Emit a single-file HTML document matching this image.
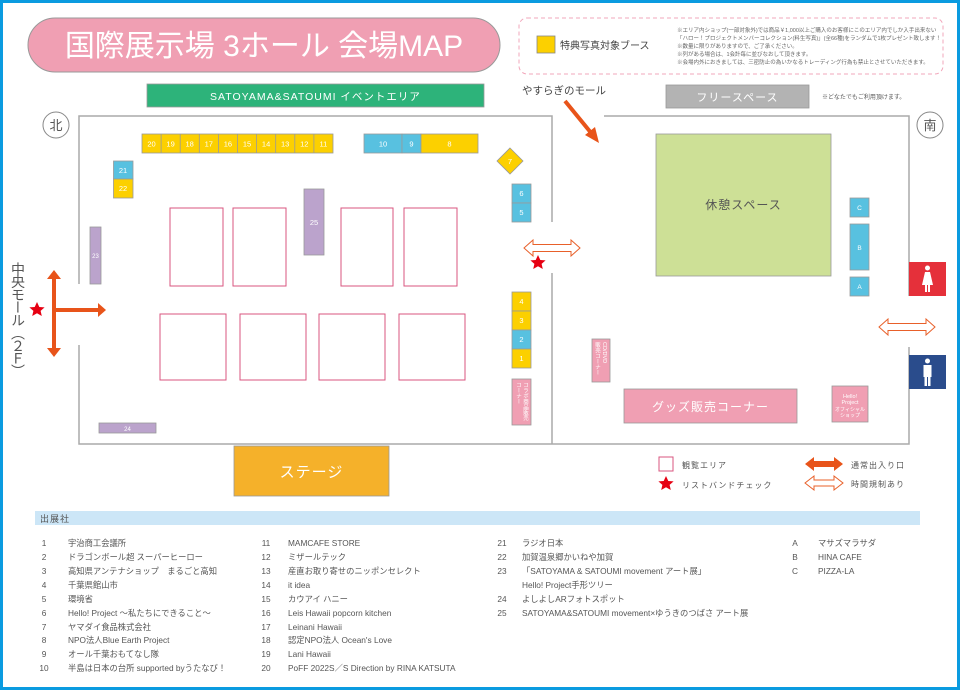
<!DOCTYPE html>
<html><head><meta charset="utf-8"><style>
html,body{margin:0;padding:0;background:#fff}
body{position:relative;width:960px;height:690px;overflow:hidden}
svg{display:block}
text{font-family:"Liberation Sans","Noto Sans CJK JP",sans-serif}
.vt{position:absolute;left:10px;top:262px;writing-mode:vertical-rl;text-orientation:mixed;font-family:"Noto Sans CJK JP",sans-serif;font-size:14px;line-height:16px;color:#555;letter-spacing:-1.2px}
</style></head><body>
<svg width="960" height="690" viewBox="0 0 960 690" xmlns="http://www.w3.org/2000/svg">
<defs>
<g id="ob"><polygon points="0,0 9,-8 9,-3.5 47,-3.5 47,-8 56,0 47,8 47,3.5 9,3.5 9,8" fill="#fff" stroke="#e8602a" stroke-width="1"/></g>
</defs>
<rect x="1.5" y="1.5" width="957" height="687" fill="#fff" stroke="#0a9be0" stroke-width="3"/>

<rect x="28" y="18" width="472" height="54" rx="27" fill="#f09fb3" stroke="#999" stroke-width="1"/>
<text x="264" y="56" font-size="30" fill="#fff" text-anchor="middle">国際展示場 3ホール 会場MAP</text>

<rect x="519" y="18" width="424" height="56" rx="8" fill="none" stroke="#f2a7bb" stroke-width="1" stroke-dasharray="4,3"/>
<rect x="537" y="36" width="18" height="17" fill="#fcd000" stroke="#888" stroke-width="0.8"/>
<text x="560" y="49" font-size="10" fill="#444">特典写真対象ブース</text>
<g font-size="5.5" fill="#666">
<text x="677" y="32">※エリア内ショップ(一部対象外)では商品￥1,000以上ご購入のお客様にこのエリア内でしか入手出来ない</text>
<text x="677" y="40">「ハロー！プロジェクトメンバーコレクション(料生写真)」(全66種)をランダムで1枚プレゼント致します！</text>
<text x="677" y="48">※数量に限りがありますので、ご了承ください。</text>
<text x="677" y="56">※列がある場合は、1会計毎に並びなおして頂きます。</text>
<text x="677" y="64">※会場内外におきましては、三密防止の為いかなるトレーディング行為も禁止とさせていただきます。</text>
</g>

<rect x="147" y="84" width="337" height="23" fill="#2db37a" stroke="#999" stroke-width="0.8"/>
<text x="315.5" y="100" font-size="10.5" fill="#fff" text-anchor="middle" letter-spacing="1">SATOYAMA&amp;SATOUMI イベントエリア</text>
<text x="522" y="94" font-size="10.5" fill="#444">やすらぎのモール</text>
<rect x="666" y="85" width="143" height="23" fill="#b3b3b3" stroke="#999" stroke-width="0.8"/>
<text x="737.5" y="101" font-size="11" fill="#fff" text-anchor="middle" letter-spacing="1">フリースペース</text>
<text x="822" y="99" font-size="6" fill="#555">※どなたでもご利用頂けます。</text>

<line x1="565" y1="101" x2="592" y2="134" stroke="#e8541a" stroke-width="4"/>
<polygon points="599,143 585,135 595,127" fill="#e8541a"/>

<circle cx="56" cy="125" r="13" fill="#fff" stroke="#888" stroke-width="1"/>
<text x="56" y="130" font-size="13" fill="#555" text-anchor="middle">北</text>
<circle cx="930" cy="125" r="13" fill="#fff" stroke="#888" stroke-width="1"/>
<text x="930" y="130" font-size="13" fill="#555" text-anchor="middle">南</text>

<g stroke="#aaa" stroke-width="1.5" fill="none">
<polyline points="79,284 79,116 552,116 552,222"/>
<polyline points="79,345 79,444 909,444 909,347"/>
<line x1="552" y1="273" x2="552" y2="444"/>
<polyline points="604,116 909,116 909,296"/>
</g>

<rect x="142" y="134" width="191" height="19" fill="#fcd000" stroke="#999" stroke-width="0.8"/>
<g stroke="#999" stroke-width="0.8">
<line x1="161.1" y1="134" x2="161.1" y2="153"/><line x1="180.2" y1="134" x2="180.2" y2="153"/><line x1="199.3" y1="134" x2="199.3" y2="153"/><line x1="218.4" y1="134" x2="218.4" y2="153"/><line x1="237.5" y1="134" x2="237.5" y2="153"/><line x1="256.6" y1="134" x2="256.6" y2="153"/><line x1="275.7" y1="134" x2="275.7" y2="153"/><line x1="294.8" y1="134" x2="294.8" y2="153"/><line x1="313.9" y1="134" x2="313.9" y2="153"/>
</g>
<g font-size="7.5" fill="#fff" text-anchor="middle">
<text x="151.5" y="146.5">20</text><text x="170.6" y="146.5">19</text><text x="189.7" y="146.5">18</text><text x="208.8" y="146.5">17</text><text x="227.9" y="146.5">16</text><text x="247" y="146.5">15</text><text x="266.1" y="146.5">14</text><text x="285.2" y="146.5">13</text><text x="304.3" y="146.5">12</text><text x="323.4" y="146.5">11</text>
</g>
<g stroke="#999" stroke-width="0.8">
<rect x="364" y="134" width="38" height="19" fill="#58c1e0"/>
<rect x="402" y="134" width="19" height="19" fill="#58c1e0"/>
<rect x="421" y="134" width="57" height="19" fill="#fcd000"/>
<rect x="113.5" y="161" width="19.5" height="18" fill="#58c1e0"/>
<rect x="113.5" y="179" width="19.5" height="19" fill="#fcd000"/>
<rect x="512" y="184" width="19" height="19" fill="#58c1e0"/>
<rect x="512" y="203" width="19" height="19" fill="#58c1e0"/>
<polygon points="510,148 523,161 510,174 497,161" fill="#fcd000"/>
<rect x="304" y="189" width="20" height="66" fill="#bba3cc"/>
<rect x="90" y="227" width="11" height="57" fill="#bba3cc"/>
<rect x="99" y="423" width="57" height="10" fill="#bba3cc"/>
<rect x="512" y="292" width="19" height="19" fill="#fcd000"/>
<rect x="512" y="311" width="19" height="19" fill="#fcd000"/>
<rect x="512" y="330" width="19" height="19" fill="#58c1e0"/>
<rect x="512" y="349" width="19" height="19" fill="#fcd000"/>
<rect x="512" y="379" width="19" height="46" fill="#f09fb3"/>
<rect x="850" y="198" width="19" height="19" fill="#58c1e0"/>
<rect x="850" y="224" width="19" height="46" fill="#58c1e0"/>
<rect x="850" y="277" width="19" height="19" fill="#58c1e0"/>
<rect x="592" y="339" width="18" height="43" fill="#f09fb3"/>
<rect x="624" y="389" width="173" height="34" fill="#f09fb3"/>
<rect x="832" y="386" width="36" height="36" fill="#f09fb3"/>
<rect x="656" y="134" width="175" height="142" fill="#cde096"/>
</g>
<g font-size="7.5" fill="#fff" text-anchor="middle">
<text x="383" y="146.5">10</text><text x="411.5" y="146.5">9</text><text x="449.5" y="146.5">8</text>
<text x="123" y="173">21</text><text x="123" y="191">22</text>
<text x="521.5" y="196">6</text><text x="521.5" y="215">5</text>
<text x="510" y="164">7</text>
<text x="314" y="225">25</text>
<text x="95.5" y="258" font-size="6">23</text>
<text x="127.5" y="431" font-size="6">24</text>
<text x="521.5" y="304">4</text><text x="521.5" y="323">3</text><text x="521.5" y="342">2</text><text x="521.5" y="361">1</text>
<text x="859.5" y="210" font-size="6.5">C</text><text x="859.5" y="250" font-size="6.5">B</text><text x="859.5" y="289" font-size="6.5">A</text>
<text x="850" y="398" font-size="5.5">Hello!</text>
<text x="850" y="404" font-size="5.5">Project</text>
<text x="850" y="411" font-size="5">オフィシャル</text>
<text x="850" y="417" font-size="5">ショップ</text>
</g>
<text x="710.5" y="411" font-size="12" fill="#fff" text-anchor="middle" letter-spacing="1">グッズ販売コーナー</text>
<text x="743.5" y="209" font-size="12" fill="#555" text-anchor="middle" letter-spacing="1">休憩スペース</text>
<g font-size="5.5" fill="#fff" writing-mode="tb">
<text x="525" y="382">コラボ商品販売</text>
<text x="518" y="382">コーナー</text>
<text x="604" y="342">CD/DVD</text>
<text x="597" y="342">販売コーナー</text>
</g>

<g fill="none" stroke="#d9557f" stroke-width="1">
<rect x="170" y="208" width="53" height="78"/><rect x="233" y="208" width="53" height="78"/>
<rect x="341" y="208" width="52" height="78"/><rect x="404" y="208" width="53" height="78"/>
<rect x="160" y="314" width="66" height="66"/><rect x="240" y="314" width="66" height="66"/>
<rect x="319" y="314" width="66" height="66"/><rect x="399" y="314" width="66" height="66"/>
</g>

<rect x="234" y="446" width="155" height="50" fill="#f5b12a" stroke="#999" stroke-width="0.8"/>
<text x="311.5" y="477" font-size="15" fill="#fff" text-anchor="middle" letter-spacing="1">ステージ</text>

<line x1="54" y1="277" x2="54" y2="350" stroke="#e8541a" stroke-width="4"/>
<polygon points="54,270 47,279 61,279" fill="#e8541a"/>
<polygon points="54,357 47,348 61,348" fill="#e8541a"/>
<line x1="54" y1="310" x2="99" y2="310" stroke="#e8541a" stroke-width="4"/>
<polygon points="106,310 98,303 98,317" fill="#e8541a"/>

<g fill="#e60012">
<polygon points="37,302 39.3,307 44.6,307.4 40.6,310.9 41.8,316 37,313.3 32.2,316 33.4,310.9 29.4,307.4 34.7,307"/>
<polygon points="538,255 540.3,260 545.6,260.4 541.6,263.9 542.8,269 538,266.3 533.2,269 534.4,263.9 530.4,260.4 535.7,260"/>
<polygon points="666,476 668.3,481 673.6,481.4 669.6,484.9 670.8,490 666,487.3 661.2,490 662.4,484.9 658.4,481.4 663.7,481"/>
</g>
<use href="#ob" x="524" y="248"/>
<use href="#ob" x="879" y="327"/>

<rect x="909" y="262" width="37" height="34" fill="#e5303a"/>
<g fill="#fff"><circle cx="927.5" cy="268" r="2.5"/><polygon points="925,272 930,272 933,285 922,285"/><rect x="925" y="285" width="2" height="7"/><rect x="928" y="285" width="2" height="7"/></g>
<rect x="909" y="355" width="37" height="34" fill="#2a4c8c"/>
<g fill="#fff"><circle cx="927.5" cy="361" r="2.5"/><rect x="923.5" y="365" width="8" height="12"/><rect x="924.5" y="376" width="2.5" height="10"/><rect x="928" y="376" width="2.5" height="10"/></g>

<rect x="659" y="457" width="14" height="14" fill="#fff" stroke="#d9557f" stroke-width="1"/>
<text x="682" y="468" font-size="8" fill="#555" letter-spacing="1">観覧エリア</text>
<text x="682" y="488" font-size="8" fill="#555" letter-spacing="1">リストバンドチェック</text>
<polygon points="805,464 814,457 814,461 834,461 834,457 843,464 834,471 834,467 814,467 814,471" fill="#e8541a"/>
<polygon points="805,483 814,476 814,480 834,480 834,476 843,483 834,490 834,486 814,486 814,490" fill="#fff" stroke="#e8602a" stroke-width="1"/>
<text x="851" y="468" font-size="8" fill="#555" letter-spacing="1">通常出入り口</text>
<text x="851" y="487" font-size="8" fill="#555" letter-spacing="1">時間規制あり</text>

<rect x="35" y="511" width="885" height="14" fill="#cce6f7"/>
<text x="40" y="522" font-size="9" fill="#555" letter-spacing="1">出展社</text>
<g font-size="8.3" fill="#555">
<g text-anchor="middle">
<text x="44" y="546">1</text><text x="44" y="560">2</text><text x="44" y="574">3</text><text x="44" y="588">4</text><text x="44" y="602">5</text><text x="44" y="616">6</text><text x="44" y="630">7</text><text x="44" y="643">8</text><text x="44" y="657">9</text><text x="44" y="671">10</text>
<text x="266" y="546">11</text><text x="266" y="560">12</text><text x="266" y="574">13</text><text x="266" y="588">14</text><text x="266" y="602">15</text><text x="266" y="616">16</text><text x="266" y="630">17</text><text x="266" y="643">18</text><text x="266" y="657">19</text><text x="266" y="671">20</text>
<text x="502" y="546">21</text><text x="502" y="560">22</text><text x="502" y="574">23</text><text x="502" y="602">24</text><text x="502" y="616">25</text>
<text x="795" y="546">A</text><text x="795" y="560">B</text><text x="795" y="574">C</text>
</g>
<text x="68" y="546">宇治商工会議所</text>
<text x="68" y="560">ドラゴンボール超 スーパーヒーロー</text>
<text x="68" y="574">高知県アンテナショップ　まるごと高知</text>
<text x="68" y="588">千葉県館山市</text>
<text x="68" y="602">環境省</text>
<text x="68" y="616">Hello! Project ～私たちにできること～</text>
<text x="68" y="630">ヤマダイ食品株式会社</text>
<text x="68" y="643">NPO法人Blue Earth Project</text>
<text x="68" y="657">オール千葉おもてなし隊</text>
<text x="68" y="671">半島は日本の台所 supported byうたなび！</text>
<text x="288" y="546">MAMCAFE STORE</text>
<text x="288" y="560">ミザールテック</text>
<text x="288" y="574">産直お取り寄せのニッポンセレクト</text>
<text x="288" y="588">it idea</text>
<text x="288" y="602">カウアイ ハニー</text>
<text x="288" y="616">Leis Hawaii popcorn kitchen</text>
<text x="288" y="630">Leinani Hawaii</text>
<text x="288" y="643">認定NPO法人 Ocean's Love</text>
<text x="288" y="657">Lani Hawaii</text>
<text x="288" y="671">PoFF 2022S／S Direction by RINA KATSUTA</text>
<text x="522" y="546">ラジオ日本</text>
<text x="522" y="560">加賀温泉郷かいねや加賀</text>
<text x="522" y="574">「SATOYAMA &amp; SATOUMI movement アート展」</text>
<text x="522" y="588">Hello! Project手形ツリー</text>
<text x="522" y="602">よしよしARフォトスポット</text>
<text x="522" y="616">SATOYAMA&amp;SATOUMI movement×ゆうきのつばさ アート展</text>
<text x="818" y="546">マサズマラサダ</text>
<text x="818" y="560">HINA CAFE</text>
<text x="818" y="574">PIZZA-LA</text>
</g>
</svg>
<div class="vt">中央モール（２Ｆ）</div>
</body></html>
